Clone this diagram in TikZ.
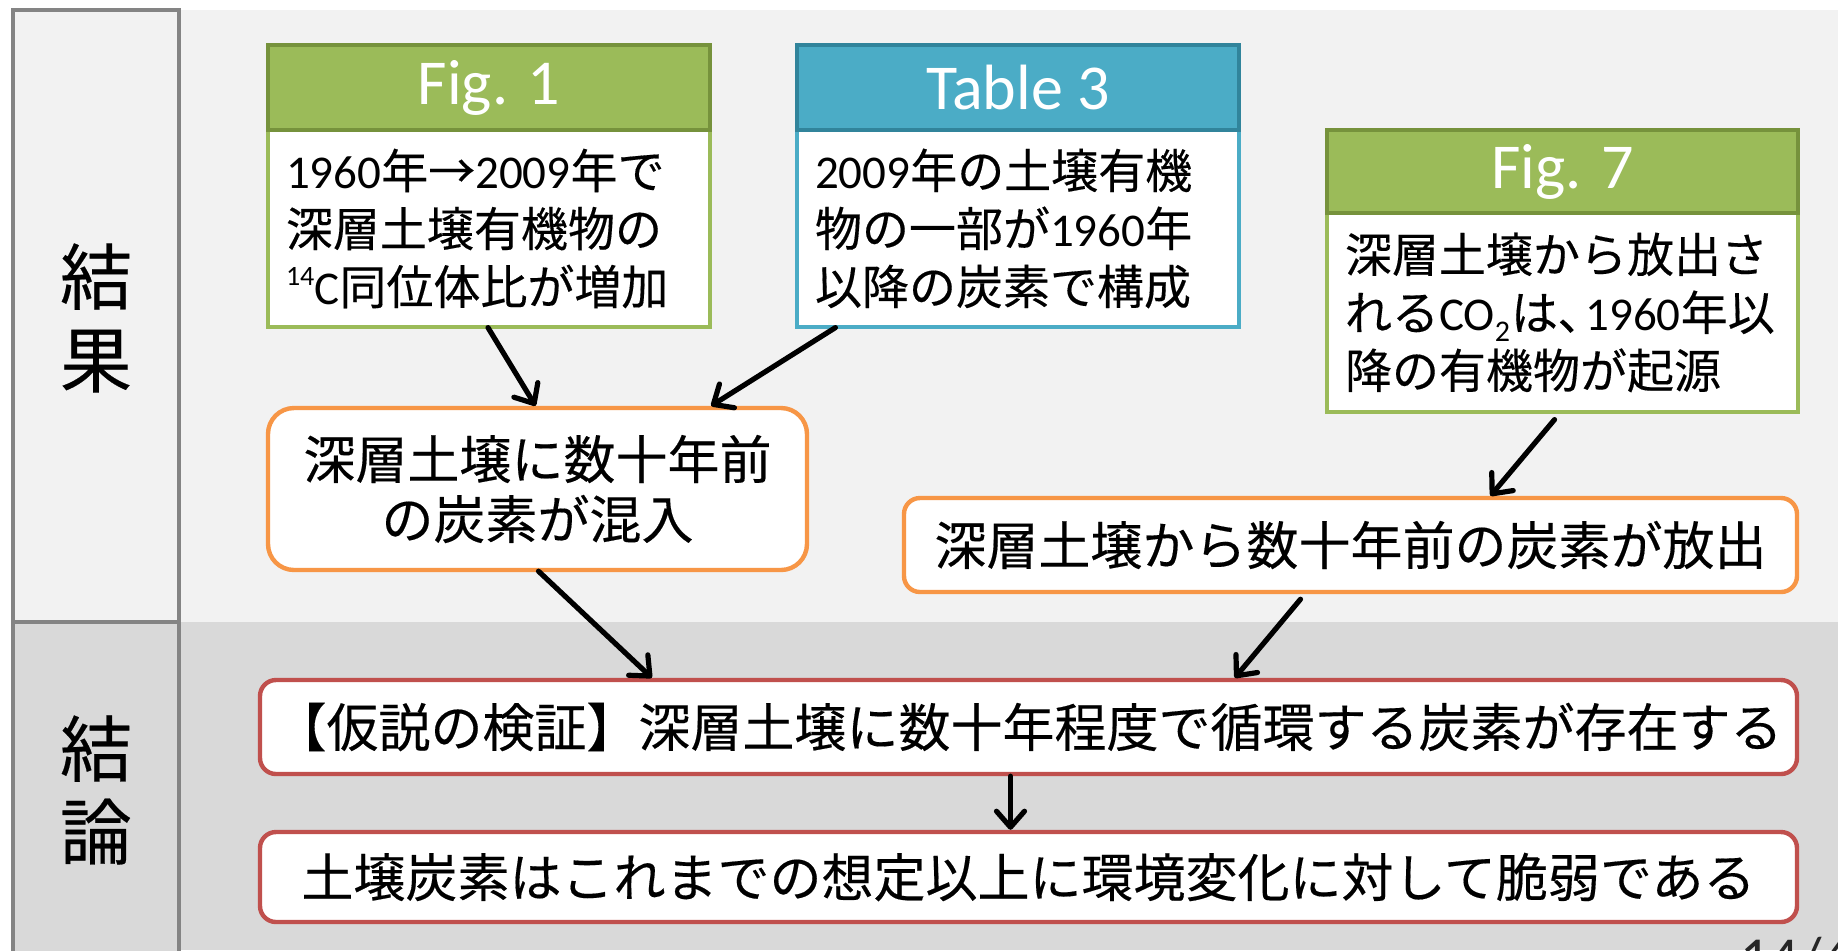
\documentclass[tikz,border=0pt]{standalone}
\usepackage{fontspec}
\setmainfont{Noto Sans CJK JP}[FakeBold=0.3]
\newfontfamily\lat{Carlito}
\usetikzlibrary{arrows.meta}
\definecolor{bgA}{HTML}{F2F2F2}
\definecolor{bgB}{HTML}{D9D9D9}
\definecolor{colbd}{HTML}{848484}
\definecolor{grn}{HTML}{9BBB59}
\definecolor{grnd}{HTML}{76923C}
\definecolor{blu}{HTML}{4BACC6}
\definecolor{blud}{HTML}{31849B}
\definecolor{org}{HTML}{F79646}
\definecolor{redc}{HTML}{C0504D}
\newcommand{\supn}[1]{\raisebox{0.75ex}{\lat\fontsize{14}{14}\selectfont #1}}
\newcommand{\subn}[1]{\raisebox{-0.45ex}{\lat\fontsize{15}{15}\selectfont #1}}
\begin{document}
\begin{tikzpicture}[x=0.5pt,y=-0.5pt,
  hdr/.style={draw=#1, line width=1.6pt, minimum height=42.5pt, inner sep=0pt,
    text=white, font=\lat\fontsize{32}{38}\selectfont},
  bodybox/.style={draw=#1, fill=white, line width=1.6pt, inner xsep=9pt, inner ysep=0pt,
    align=left, font=\fontsize{23.5}{29}\selectfont},
  obox/.style={draw=org, fill=white, line width=2.2pt, rounded corners=#1, inner sep=0pt,
    align=center, font=\fontsize{26}{30}\selectfont},
  rbox/.style={draw=redc, fill=white, line width=2.2pt, rounded corners=8pt, inner sep=0pt,
    minimum width=768.5pt, font=\fontsize{26}{30}\selectfont},
  lbl/.style={inner sep=0pt, align=center, font=\fontsize{36}{41.5}\selectfont},
  arr/.style={-{Straight Barb[length=8pt,width=14pt,round]}, line width=2.6pt, line cap=round}
]
\useasboundingbox (0,0) rectangle (1838,950);
% backgrounds
\fill[bgA] (179,10) rectangle (1838,622);
\fill[bgB] (179,622) rectangle (1838,950);
\draw[colbd, line width=2pt, fill=bgA] (13,10) rectangle (179,622);
\draw[colbd, line width=2pt, fill=bgB] (13,622) rectangle (179,965);
\node[lbl] (kekka) at (96,318) {結\\果};
\node[lbl] (ketsuron) at (96,790) {結\\論};

% Fig. 1
\node[bodybox=grn, text width=203pt, minimum height=98.5pt] (f1b) at (489,228.5)
  {{\lat 1960}年→{\lat 2009}年で\\深層土壌有機物の\\\supn{14}{\lat C}同位体比が増加};
\node[hdr=grnd, fill=grn, minimum width=221pt] (f1h) at (489,87.5) {Fig. 1};

% Table 3
\node[bodybox=blu, text width=203pt, minimum height=98.5pt] (t3b) at (1018,228.5)
  {{\lat 2009}年の土壌有機\\物の一部が{\lat 1960}年\\以降の炭素で構成};
\node[hdr=blud, fill=blu, minimum width=221pt] (t3h) at (1018,87.5) {Table 3};

% Fig. 7
\node[bodybox=grn, text width=217.5pt, minimum height=99.5pt] (f7b) at (1562.5,312.5)
  {深層土壌から放出さ\\れる{\lat CO}\subn{2}\kern0.5pt は{\addfontfeature{RawFeature=+palt}、}\kern2pt{\lat 1960}年以\\降の有機物が起源};
\node[hdr=grnd, fill=grn, minimum width=235.5pt, minimum height=41.5pt] (f7h) at (1562.5,171.5) {Fig. 7};

% orange boxes
\node[obox=13pt, minimum width=269.5pt, minimum height=81pt] (o1) at (537.5,489)
  {深層土壌に数十年前\\の炭素が混入};
\node[obox=8pt, minimum width=446.5pt, minimum height=47pt] (o2) at (1350.5,545)
  {深層土壌から数十年前の炭素が放出};

% red boxes
\node[rbox, minimum height=47pt] (r1) at (1028.5,727)
  {【仮説の検証】深層土壌に数十年程度で循環する炭素が存在する};
\node[rbox, minimum height=45pt] (r2) at (1028.5,877)
  {土壌炭素はこれまでの想定以上に環境変化に対して脆弱である};

% page number (cut off)
\node[anchor=base west, inner sep=0pt, text=black!85, font=\lat\fontsize{29}{34}\selectfont] (pg) at (1740,977) {14/4};

% arrows
\draw[arr] ([xshift=-0.5pt,yshift=0.5pt]f1b.south) -- ([xshift=-1pt]o1.north);
\draw[arr] ([xshift=20pt,yshift=0.5pt]t3b.south west) -- ([xshift=-49pt]o1.north east);
\draw[arr] ([xshift=-4pt,yshift=-3pt]f7b.south) -- ([xshift=70pt]o2.north);
\draw[arr] ([xshift=0.5pt,yshift=0.5pt]o1.south) -- ([xshift=197pt]r1.north west);
\draw[arr] ([xshift=-25pt,yshift=-2.5pt]o2.south) -- ([xshift=488.5pt]r1.north west);
\draw[arr] ([xshift=-9pt]r1.south) -- ([xshift=-9pt]r2.north);
\end{tikzpicture}
\end{document}
